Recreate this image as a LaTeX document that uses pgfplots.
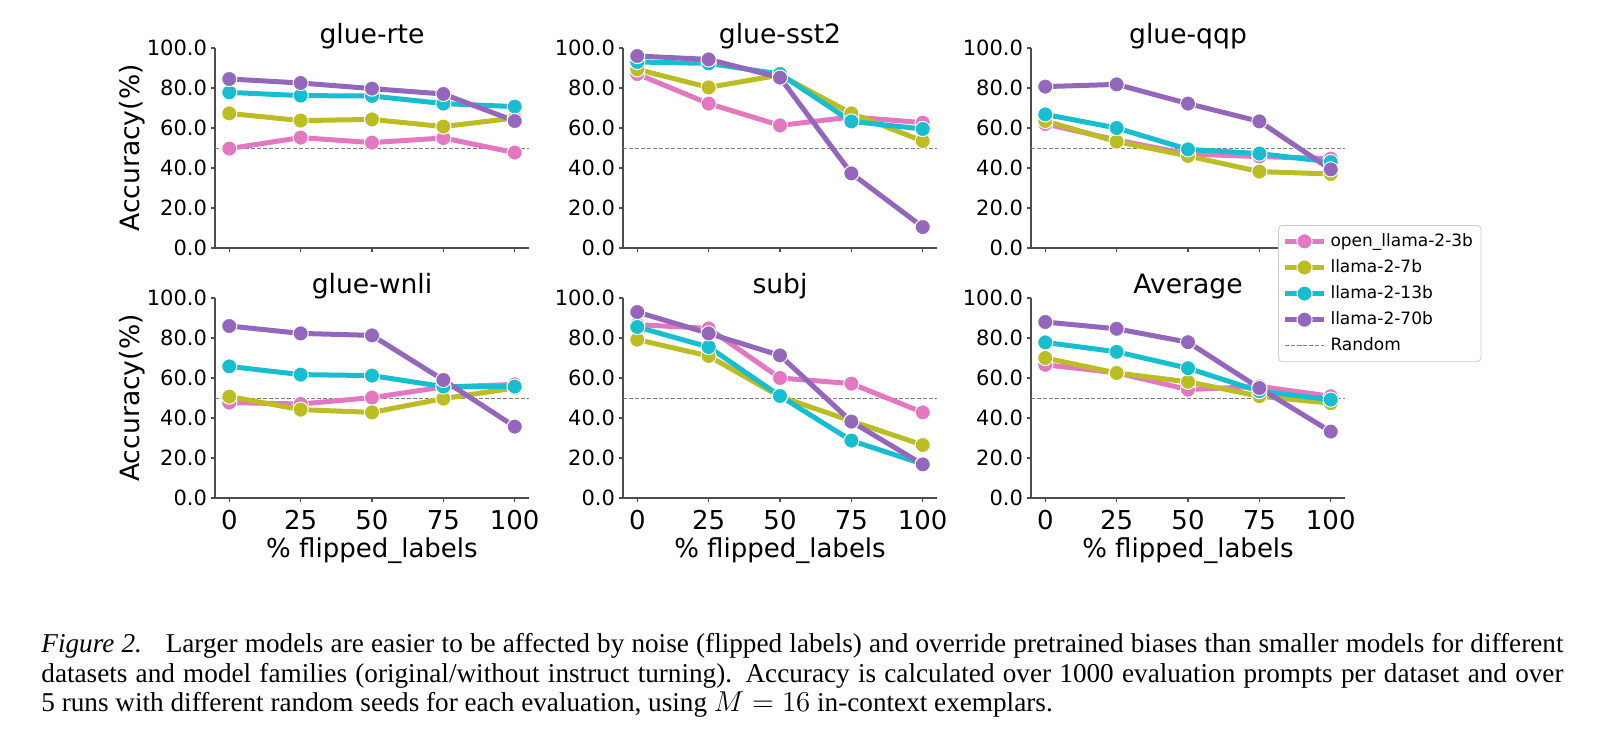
\documentclass[border=0pt]{standalone}
\usepackage{pgfplots}
\pgfplotsset{compat=1.18}
\usepackage{pgfplotstable}
\usepackage{fontspec}
\setmainfont{DejaVu Sans}
\newfontfamily\capfont{Liberation Serif}

\definecolor{cpink}{HTML}{E377C2}
\definecolor{colive}{HTML}{BCBD22}
\definecolor{ccyan}{HTML}{17BECF}
\definecolor{cpurple}{HTML}{9467BD}
\definecolor{axcol}{HTML}{4D4D4D}
\definecolor{legcol}{HTML}{CCCCCC}

% accuracy (%) per % flipped labels
\pgfplotstableread{
x   pink olive cyan purple
0   49.7 67.3  77.8 84.5
25  55.2 63.7  76.2 82.5
50  52.7 64.3  76.0 79.7
75  55.0 60.7  72.2 77.0
100 47.7 65.0  70.7 63.5
}\rte
\pgfplotstableread{
x   pink olive cyan purple
0   87.0 89.3  93.0 96.0
25  72.2 80.3  92.3 94.3
50  61.3 86.5  87.0 85.2
75  65.5 67.3  63.3 37.3
100 62.7 53.5  59.5 10.5
}\sst
\pgfplotstableread{
x   pink olive cyan purple
0   62.0 63.5  66.8 80.7
25  54.0 53.2  60.0 81.8
50  47.0 46.0  49.3 72.2
75  45.7 38.2  47.2 63.3
100 44.7 37.0  43.0 39.3
}\qqp
\pgfplotstableread{
x   pink olive cyan purple
0   47.7 50.7  65.8 86.0
25  47.0 44.2  61.7 82.3
50  50.2 42.8  61.2 81.3
75  55.5 49.7  55.7 59.0
100 56.8 55.0  55.7 35.7
}\wnli
\pgfplotstableread{
x   pink olive cyan purple
0   86.7 79.2  85.5 93.0
25  84.8 71.0  75.5 82.3
50  60.0 50.7  51.0 71.3
75  57.2 38.5  28.7 38.2
100 42.8 26.5  17.0 16.8
}\subj
\pgfplotstableread{
x   pink olive cyan purple
0   66.6 70.0  77.8 88.0
25  62.6 62.5  73.1 84.6
50  54.2 58.1  64.9 77.9
75  55.8 50.9  53.4 55.0
100 50.9 47.4  49.2 33.2
}\avg

\pgfplotsset{
  panel/.style={
    scale only axis, width=157pt, height=100pt,
    xmin=-5, xmax=105, ymin=0, ymax=100,
    axis x line*=bottom, axis y line*=left,
    axis line style={-, draw=axcol, line width=0.7pt},
    xtick={0,25,50,75,100}, ytick={0,20,...,100},
    tick align=outside, major tick length=2pt,
    tick style={draw=axcol, line width=0.6pt},
    yticklabel style={font=\fontsize{10.5}{12}\selectfont, xshift=1.5pt,
      /pgf/number format/.cd, fixed, fixed zerofill, precision=1, assume math mode=true},
    xticklabel style={font=\fontsize{13}{15}\selectfont, yshift=-0.5pt,
      /pgf/number format/assume math mode=true},
    title style={font=\fontsize{13.3}{15}\selectfont, at={(0.5,1)}, anchor=south,
      inner sep=0pt, yshift=-6.5pt},
    every axis y label/.style={at={(axis description cs:-0.265,0.5)}, rotate=90,
      anchor=center, font=\fontsize{13.3}{15}\selectfont},
    every axis x label/.style={at={(axis description cs:0.5,-0.295)},
      anchor=base, font=\fontsize{13}{15}\selectfont},
  },
  top/.style={panel, xticklabels={}},
  bot/.style={panel, xlabel={\% flipped\_labels}},
  s1/.style={cpink, line width=2.5pt, mark=*, mark size=3.8pt,
    mark options={fill=cpink, draw=white, line width=0.5pt}},
  s2/.style={colive, line width=2.5pt, mark=*, mark size=3.8pt,
    mark options={fill=colive, draw=white, line width=0.5pt}},
  s3/.style={ccyan, line width=2.5pt, mark=*, mark size=3.8pt,
    mark options={fill=ccyan, draw=white, line width=0.5pt}},
  s4/.style={cpurple, line width=2.5pt, mark=*, mark size=3.8pt,
    mark options={fill=cpurple, draw=white, line width=0.5pt}},
  rnd/.style={gray, line width=0.5pt, dash pattern=on 2pt off 1pt, mark=none},
}

\newcommand{\fourlines}[1]{%
  \addplot[rnd, forget plot] coordinates {(-5,50) (105,50)};
  \addplot[s1] table[x=x, y=pink] {#1};
  \addplot[s2] table[x=x, y=olive] {#1};
  \addplot[s3] table[x=x, y=cyan] {#1};
  \addplot[s4] table[x=x, y=purple] {#1};
}

\begin{document}
\begin{tikzpicture}

\begin{axis}[top, at={(107.5pt,-124pt)}, anchor=south west,
  title={glue-rte}, ylabel={Accuracy(\%)}]
\fourlines{\rte}
\end{axis}

\begin{axis}[top, at={(311.5pt,-124pt)}, anchor=south west, title={glue-sst2}]
\fourlines{\sst}
\end{axis}

\begin{axis}[top, at={(515.5pt,-124pt)}, anchor=south west, title={glue-qqp}]
\fourlines{\qqp}
\end{axis}

\begin{axis}[bot, at={(107.5pt,-249pt)}, anchor=south west,
  title={glue-wnli}, ylabel={Accuracy(\%)}]
\fourlines{\wnli}
\end{axis}

\begin{axis}[bot, at={(311.5pt,-249pt)}, anchor=south west, title={subj}]
\fourlines{\subj}
\end{axis}

\begin{axis}[bot, at={(515.5pt,-249pt)}, anchor=south west, title={Average},
  legend style={at={(axis description cs:0.787,1.365)}, anchor=north west,
    draw=legcol, rounded corners=2pt, fill=white, inner sep=2pt,
    font=\fontsize{8.5}{10}\selectfont, row sep=1.1pt},
  legend cell align=left,
  legend image code/.code={\draw[mark repeat=2, mark phase=2]
    plot coordinates {(0pt,0pt) (9.75pt,0pt) (19.5pt,0pt)};}]
\fourlines{\avg}
\addlegendimage{rnd}
\legend{open\_llama-2-3b, llama-2-7b, llama-2-13b, llama-2-70b, Random}
\end{axis}

\node[anchor=base west, inner sep=0pt] at (20.5pt,-326.2pt) {\capfont\fontsize{13.6}{15}\selectfont
  \hbox to 761pt{\textit{Figure 2.}\hspace{0.5em} Larger models are easier to be affected by noise (flipped labels) and override pretrained biases than smaller models for different}};
\node[anchor=base west, inner sep=0pt] at (20.5pt,-341pt) {\capfont\fontsize{13.6}{15}\selectfont
  \hbox to 761pt{datasets and model families (original/without instruct turning). Accuracy is calculated over 1000 evaluation prompts per dataset and over}};
\node[anchor=base west, inner sep=0pt] at (20.5pt,-355.8pt) {\capfont\fontsize{13.6}{15}\selectfont
  5 runs with different random seeds for each evaluation, using $M=16$ in-context exemplars.};

\pgfresetboundingbox
\path[use as bounding box] (0,0) rectangle (800pt,-372pt);
\end{tikzpicture}
\end{document}
